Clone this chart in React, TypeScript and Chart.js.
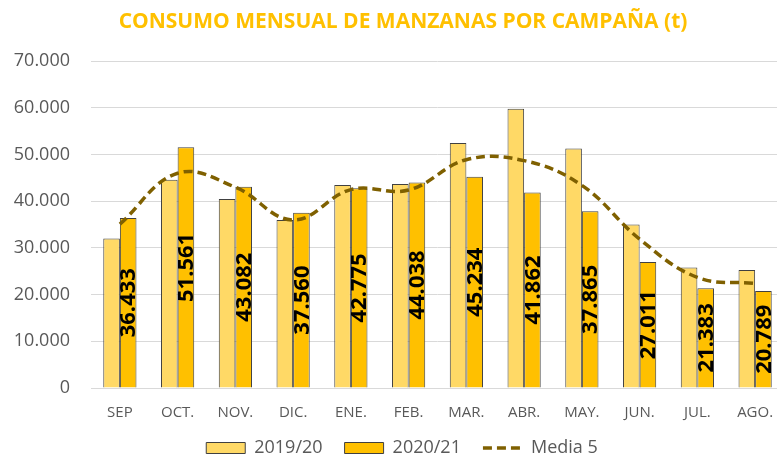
import React, { useEffect, useRef } from "react";
import { Chart, registerables } from "chart.js";

Chart.register(...registerables);

const categories = ["SEP", "OCT.", "NOV.", "DIC.", "ENE.", "FEB.", "MAR.", "ABR.", "MAY.", "JUN.", "JUL.", "AGO."];
const values2019 = [32000, 44600, 40500, 36000, 43500, 43700, 52500, 59800, 51300, 35000, 25800, 25300];
const values2020 = [36433, 51561, 43082, 37560, 42775, 44038, 45234, 41862, 37865, 27011, 21383, 20789];
const media5 = [35100, 46000, 43000, 36000, 42500, 42400, 48900, 48700, 43400, 31900, 23700, 22400];
const yTicks = [0, 10000, 20000, 30000, 40000, 50000, 60000, 70000];

const fmt = (v: number) => String(Math.round(v)).replace(/\B(?=(\d{3})+(?!\d))/g, ".");

const FONT = "'Open Sans', 'Liberation Sans', sans-serif";
const LINE_DASH = [9, 5];

const labelPlugin = {
  id: "barLabels",
  afterDatasetsDraw(chart: any) {
    const meta = chart.getDatasetMeta(1);
    const ctx = chart.ctx;
    ctx.save();
    ctx.fillStyle = "#000000";
    ctx.font = `bold 22px ${FONT}`;
    ctx.textAlign = "center";
    ctx.textBaseline = "middle";
    meta.data.forEach((bar: any, i: number) => {
      const cx = bar.x;
      const cy = (bar.y + bar.base) / 2;
      ctx.save();
      ctx.translate(cx, cy);
      ctx.rotate(-Math.PI / 2);
      ctx.fillText(fmt(values2020[i]), 0, 1);
      ctx.restore();
    });
    ctx.restore();
  },
};

// shift title and legend centre to match original (un-cropped) chart width;
// enlarge x-axis label clip area so descenders are not cut
const layoutTweakPlugin = {
  id: "layoutTweak",
  afterLayout(chart: any) {
    if (chart.titleBlock) chart.titleBlock.left += 22;
    if (chart.legend) chart.legend.left += 20;
    if (chart.scales && chart.scales.x) chart.scales.x.bottom += 12;
  },
};

export default function App() {
  const ref = useRef<HTMLCanvasElement | null>(null);
  useEffect(() => {
    if (!ref.current) return;
    const chart = new Chart(ref.current, {
      type: "bar",
      data: {
        labels: categories,
        datasets: [
          {
            label: "2019/20",
            data: values2019,
            backgroundColor: "#FFD966",
            borderColor: "#404040",
            borderWidth: 1,
            pointStyle: "rect",
            order: 1,
            categoryPercentage: 0.575,
            barPercentage: 1,
          } as any,
          {
            label: "2020/21",
            data: values2020,
            backgroundColor: "#FFC000",
            borderColor: "#404040",
            borderWidth: 1,
            pointStyle: "rect",
            order: 1,
            categoryPercentage: 0.575,
            barPercentage: 1,
          } as any,
          {
            type: "line",
            label: "Media 5",
            data: media5,
            borderColor: "#7F6000",
            backgroundColor: "#7F6000",
            borderWidth: 3.5,
            borderDash: LINE_DASH,
            pointRadius: 0,
            pointStyle: "line",
            tension: 0.4,
            fill: false,
            order: 0,
          } as any,
        ],
      },
      options: {
        responsive: false,
        animation: false,
        layout: { padding: { left: 0, right: 21, top: 0, bottom: 0 } },
        plugins: {
          title: {
            display: true,
            text: "CONSUMO MENSUAL DE MANZANAS POR CAMPAÑA (t)",
            color: "#FFC000",
            font: { family: FONT, size: 21, weight: "bold" },
            padding: { top: 9, bottom: 27 },
          },
          legend: {
            position: "bottom",
            labels: {
              usePointStyle: true,
              pointStyleWidth: 39,
              boxHeight: 11,
              padding: 22,
              color: "#595959",
              font: { family: FONT, size: 18 },
              sort: (a: any, b: any) => a.datasetIndex - b.datasetIndex,
              generateLabels: (chart: any) => {
                const items = Chart.defaults.plugins.legend.labels.generateLabels(chart);
                items.forEach((it: any) => {
                  if (it.datasetIndex === 2) {
                    it.lineDash = LINE_DASH;
                    it.lineWidth = 3.5;
                    it.strokeStyle = "#7F6000";
                    it.pointStyle = "line";
                  } else {
                    it.lineWidth = 1;
                    it.strokeStyle = "#404040";
                    it.lineDash = [];
                  }
                });
                return items;
              },
            },
          },
          tooltip: { enabled: false },
        },
        scales: {
          x: {
            grid: { display: false, drawTicks: false },
            border: { display: true, color: "#D9D9D9" },
            ticks: { color: "#595959", font: { family: FONT, size: 15 }, padding: 16 },
            afterFit: (scale: any) => {
              scale.height = 29;
            },
          },
          y: {
            min: 0,
            max: 70000,
            afterBuildTicks: (scale: any) => {
              scale.ticks = yTicks.map((v) => ({ value: v }));
            },
            afterFit: (scale: any) => {
              scale.width = 91;
            },
            grid: { color: "#D9D9D9", drawTicks: false },
            border: { display: false },
            ticks: {
              color: "#595959",
              font: { family: FONT, size: 18 },
              padding: 21,
              callback: (v: any) => fmt(Number(v)),
            },
          },
        },
      },
      plugins: [labelPlugin, layoutTweakPlugin],
    });
    return () => chart.destroy();
  }, []);
  return (
    <div style={{ position: "fixed", left: 0, top: 0, width: 777, height: 455, overflow: "hidden", background: "#fff" }}>
      <canvas ref={ref} width={805} height={467} style={{ width: 805, height: 467, display: "block" }} />
    </div>
  );
}
